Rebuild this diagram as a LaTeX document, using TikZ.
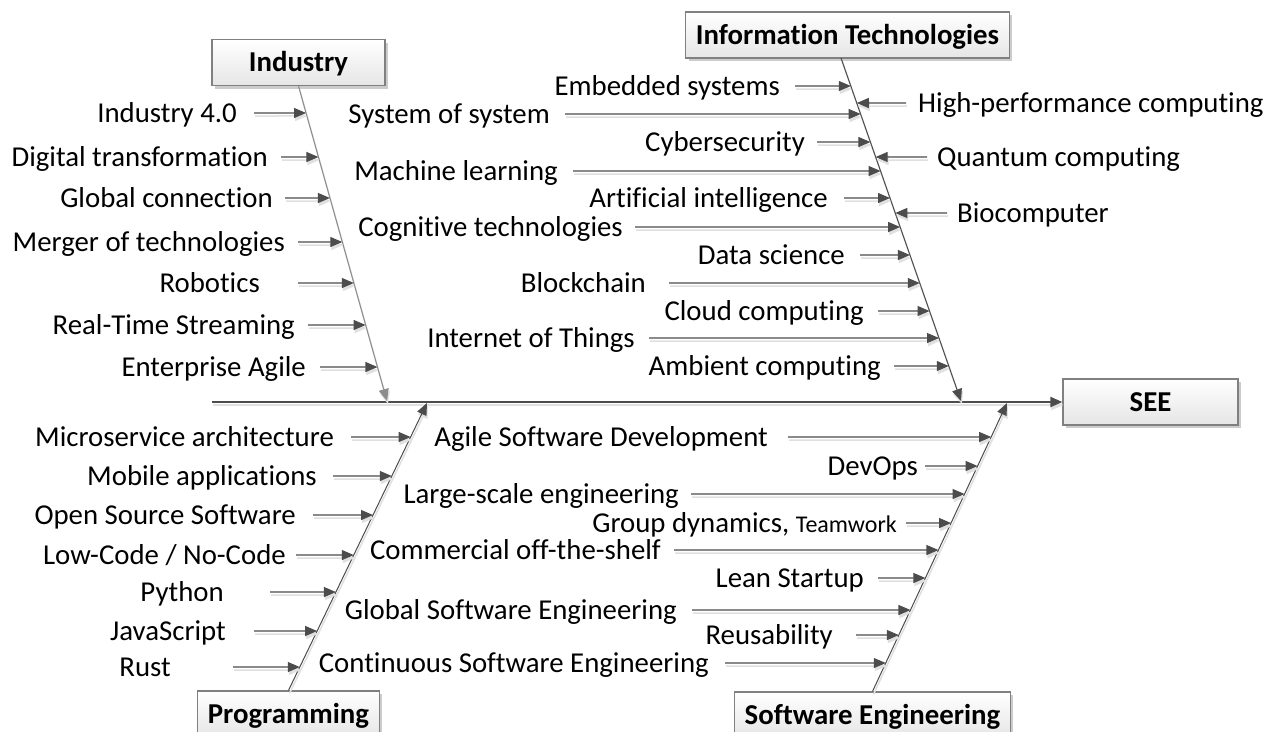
\documentclass[tikz,border=0pt]{standalone}
\usepackage{fontspec}
\setmainfont{Carlito}[Ligatures=NoCommon]
\usetikzlibrary{arrows.meta,shadows}

\begin{document}
\begin{tikzpicture}[x=1pt, y=-1pt, font=\fontsize{28.8}{34}\selectfont,
    lbl/.style={inner sep=0pt, text height=18.4pt, text depth=0pt, anchor=east},
    lblr/.style={lbl, anchor=west},
    cause/.style={draw=black!50, line width=1.2pt, top color=white, bottom color=black!10,
      font=\fontsize{28.8}{34}\selectfont\bfseries, text height=18.4pt, text depth=0pt,
      minimum height=46pt, inner xsep=10pt,
      drop shadow={shadow xshift=3pt, shadow yshift=-3pt, fill=black!20, opacity=1}},
    arr/.style={draw=black!70, line width=1.1pt, -{Triangle[length=12pt,width=10pt]},
      preaction={draw=black!12, line width=1.5pt, transform canvas={shift={(1pt,-3pt)}}}},
    bone/.style={arr, line width=1pt},
    spine/.style={arr, line width=2pt}]
      \fill[white] (0,0) rectangle (1268,731); \useasboundingbox (0,0) rectangle (1268,731);

      \node[cause, minimum width=173pt] (ind) at (298.5,62.5) {Industry};
      \node[cause] (it) at (847.5,35) {Information Technologies};
      \node[cause, minimum width=175pt] (see) at (1150.5,402) {SEE};
      \node[cause] (prog) at (288.5,714) {Programming};
      \node[cause] (se) at (872.5,715) {Software Engineering};

      \coordinate (spl) at (212,402); \coordinate (indtip) at (387,401);
      \coordinate (itt) at (841,58); \coordinate (ittip) at (961,401);
      \coordinate (progtip) at (427,403); \coordinate (setip) at (1007,403);

      \draw[spine] (spl) -- (see);
      \draw[bone, draw=black!45] (ind.south) -- (indtip); \draw[bone] (itt) -- (ittip);
      \draw[bone] (prog.north) -- (progtip); \draw[bone] (se.north) -- (setip);

      \node[lbl] (i1) at (237,113) {Industry 4.0}; \node[lbl] (i2) at (268,157) {Digital transformation};
      \node[lbl] (i3) at (273,198) {Global connection}; \node[lbl] (i4) at (285,242) {Merger of technologies};
      \node[lbl] (i5) at (260,283) {Robotics}; \node[lbl] (i6) at (295,325) {Real-Time Streaming};
      \node[lbl] (i7) at (306,367) {Enterprise Agile};

      \draw[arr, shorten <=17pt] (i1) -- (intersection of ind.south--indtip and i1.east--i1.west);
      \draw[arr, shorten <=13pt] (i2) -- (intersection of ind.south--indtip and i2.east--i2.west);
      \draw[arr, shorten <=12pt] (i3) -- (intersection of ind.south--indtip and i3.east--i3.west);
      \draw[arr, shorten <=13pt] (i4) -- (intersection of ind.south--indtip and i4.east--i4.west);
      \draw[arr, shorten <=38pt] (i5) -- (intersection of ind.south--indtip and i5.east--i5.west);
      \draw[arr, shorten <=13pt] (i6) -- (intersection of ind.south--indtip and i6.east--i6.west);
      \draw[arr, shorten <=14pt] (i7) -- (intersection of ind.south--indtip and i7.east--i7.west);

      \node[lbl] (t1) at (780,86) {Embedded systems}; \node[lbl] (t2) at (550,114) {System of system};
      \node[lbl] (t3) at (805,142) {Cybersecurity}; \node[lbl] (t4) at (558,171) {Machine learning};
      \node[lbl] (t5) at (828,198) {Artificial intelligence}; \node[lbl] (t6) at (623,227) {Cognitive technologies};
      \node[lbl] (t7) at (845,255) {Data science}; \node[lbl] (t8) at (646,283) {Blockchain};
      \node[lbl] (t9) at (864,311) {Cloud computing}; \node[lbl] (t10) at (635,338) {Internet of Things};
      \node[lbl] (t11) at (881,366) {Ambient computing};
      \node[lblr] (r1) at (918,103) {High-performance computing}; \node[lblr] (r2) at (937,157) {Quantum computing};
      \node[lblr] (r3) at (957,213) {Biocomputer};

      \draw[arr, shorten <=15pt] (t1) -- (intersection of itt--ittip and t1.east--t1.west);
      \draw[arr, shorten <=15pt] (t2) -- (intersection of itt--ittip and t2.east--t2.west);
      \draw[arr, shorten <=12pt] (t3) -- (intersection of itt--ittip and t3.east--t3.west);
      \draw[arr, shorten <=15pt] (t4) -- (intersection of itt--ittip and t4.east--t4.west);
      \draw[arr, shorten <=16pt] (t5) -- (intersection of itt--ittip and t5.east--t5.west);
      \draw[arr, shorten <=12pt] (t6) -- (intersection of itt--ittip and t6.east--t6.west);
      \draw[arr, shorten <=15pt] (t7) -- (intersection of itt--ittip and t7.east--t7.west);
      \draw[arr, shorten <=23pt] (t8) -- (intersection of itt--ittip and t8.east--t8.west);
      \draw[arr, shorten <=14pt] (t9) -- (intersection of itt--ittip and t9.east--t9.west);
      \draw[arr, shorten <=14pt] (t10) -- (intersection of itt--ittip and t10.east--t10.west);
      \draw[arr, shorten <=13pt] (t11) -- (intersection of itt--ittip and t11.east--t11.west);
      \draw[arr, shorten <=12pt] (r1) -- (intersection of itt--ittip and r1.east--r1.west);
      \draw[arr, shorten <=10pt] (r2) -- (intersection of itt--ittip and r2.east--r2.west);
      \draw[arr, shorten <=10pt] (r3) -- (intersection of itt--ittip and r3.east--r3.west);

      \node[lbl] (p1) at (334,437) {Microservice architecture}; \node[lbl] (p2) at (317,476) {Mobile applications};
      \node[lbl] (p3) at (296,515) {Open Source Software}; \node[lbl] (p4) at (286,555) {Low-Code / No-Code};
      \node[lbl] (p5) at (224,592) {Python}; \node[lbl] (p6) at (226,631) {JavaScript};
      \node[lbl] (p7) at (171,667) {Rust};

      \draw[arr, shorten <=17pt] (p1) -- (intersection of prog.north--progtip and p1.east--p1.west);
      \draw[arr, shorten <=16pt] (p2) -- (intersection of prog.north--progtip and p2.east--p2.west);
      \draw[arr, shorten <=17pt] (p3) -- (intersection of prog.north--progtip and p3.east--p3.west);
      \draw[arr, shorten <=10pt] (p4) -- (intersection of prog.north--progtip and p4.east--p4.west);
      \draw[arr, shorten <=46pt] (p5) -- (intersection of prog.north--progtip and p5.east--p5.west);
      \draw[arr, shorten <=28pt] (p6) -- (intersection of prog.north--progtip and p6.east--p6.west);
      \draw[arr, shorten <=62pt] (p7) -- (intersection of prog.north--progtip and p7.east--p7.west);

      \node[lbl] (s1) at (768,437) {Agile Software Development}; \node[lbl] (s2) at (918,466) {DevOps};
      \node[lbl] (s3) at (679,494) {Large-scale engineering};
      \node[lbl] (s4) at (897,523) {Group dynamics, {\fontsize{24}{28}\selectfont Teamwork}};
      \node[lbl] (s5) at (661,550) {Commercial off-the-shelf}; \node[lbl] (s6) at (864,578) {Lean Startup};
      \node[lbl] (s7) at (677,610) {Global Software Engineering}; \node[lbl] (s8) at (833,635) {Reusability};
      \node[lbl] (s9) at (709,663) {Continuous Software Engineering};

      \draw[arr, shorten <=20pt] (s1) -- (intersection of se.north--setip and s1.east--s1.west);
      \draw[arr, shorten <=7pt] (s2) -- (intersection of se.north--setip and s2.east--s2.west);
      \draw[arr, shorten <=12pt] (s3) -- (intersection of se.north--setip and s3.east--s3.west);
      \draw[arr, shorten <=9pt] (s4) -- (intersection of se.north--setip and s4.east--s4.west);
      \draw[arr, shorten <=13pt] (s5) -- (intersection of se.north--setip and s5.east--s5.west);
      \draw[arr, shorten <=14pt] (s6) -- (intersection of se.north--setip and s6.east--s6.west);
      \draw[arr, shorten <=15pt] (s7) -- (intersection of se.north--setip and s7.east--s7.west);
      \draw[arr, shorten <=23pt] (s8) -- (intersection of se.north--setip and s8.east--s8.west);
      \draw[arr, shorten <=16pt] (s9) -- (intersection of se.north--setip and s9.east--s9.west);
    \end{tikzpicture}
\end{document}
